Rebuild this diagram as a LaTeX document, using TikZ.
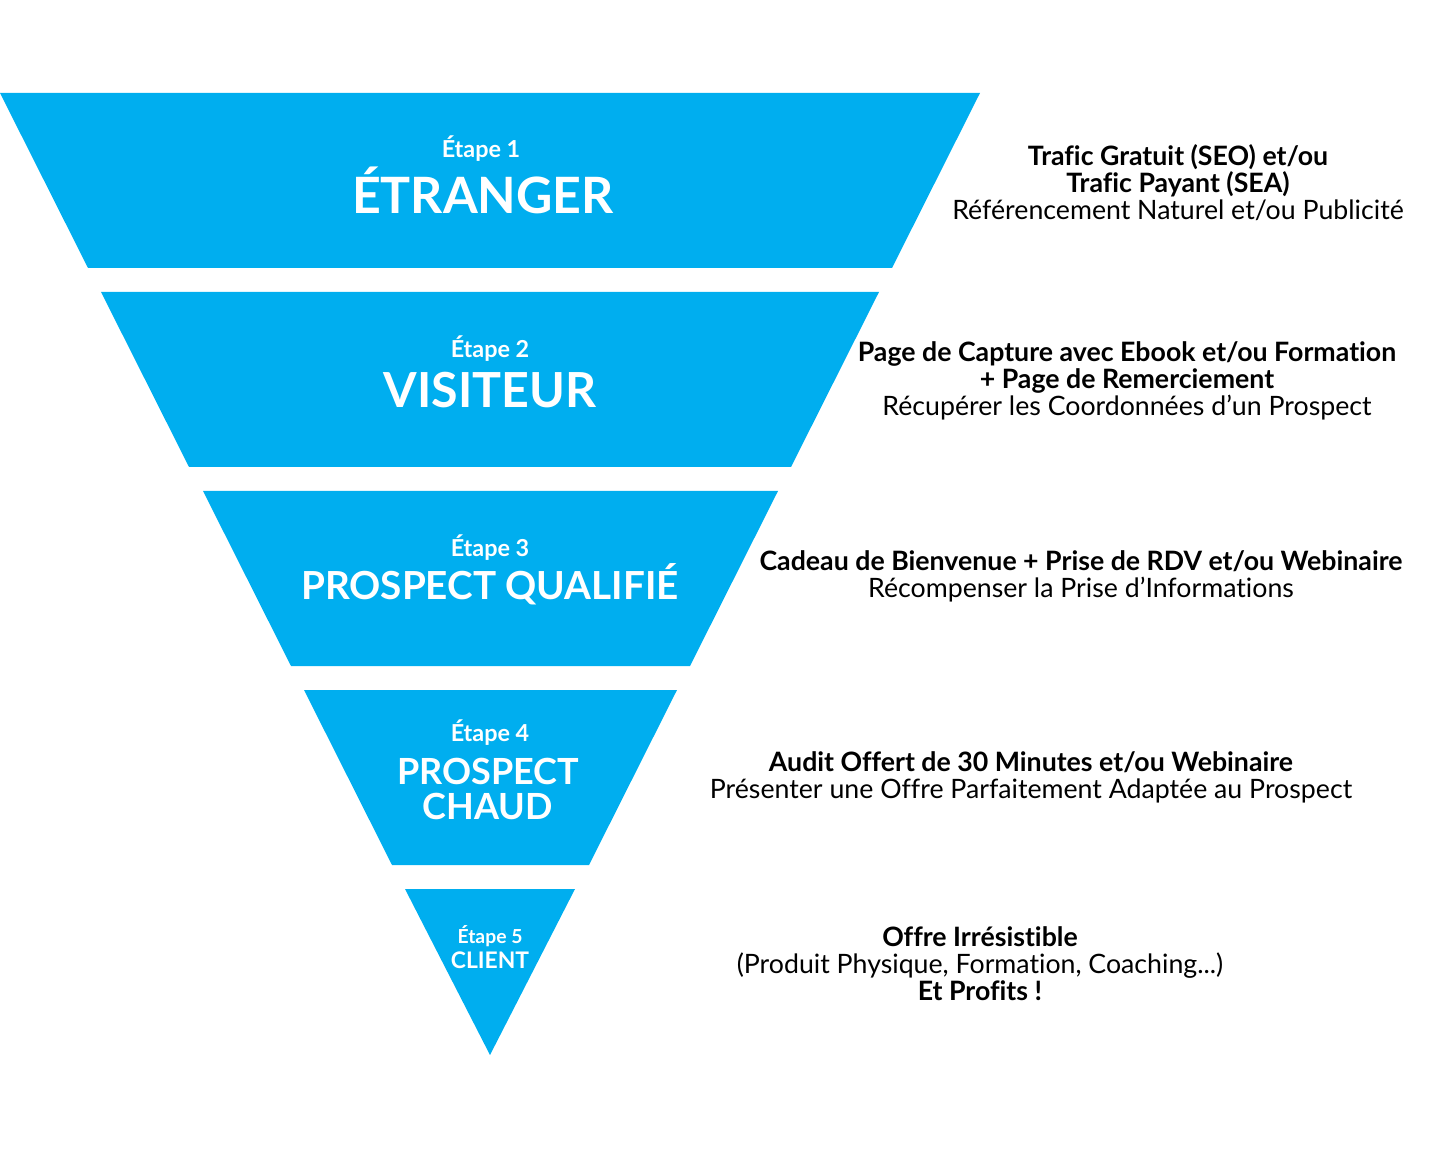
\documentclass[tikz,border=0pt]{standalone}
\usepackage{fontspec}
\setmainfont{Lato}[Ligatures={NoCommon}]
\usepackage{tikz}
\definecolor{funnelblue}{RGB}{0,174,239}

\tikzset{
  band/.style={fill=funnelblue},
  stage/.style={text=white, font=\bfseries\fontsize{13.3}{14}\selectfont, inner sep=0pt},
  title/.style={text=white, font=\bfseries\fontsize{27.5}{27.5}\selectfont, inner sep=0pt},
  subtitle/.style={text=white, font=\bfseries\fontsize{22}{20.4}\selectfont, inner sep=0pt, align=center},
  desc/.style={text=black, font=\fontsize{15.2}{15.3}\selectfont, inner sep=0pt, align=center},
}

\begin{document}
\begin{tikzpicture}[x=0.02cm, y=-0.02cm]
    % Page
    \useasboundingbox (0,0) rectangle (1440,1158);

    % Funnel bands
    \fill[band] (0,93) -- (980,93) -- (892,268) -- (88,268) -- cycle;
    \fill[band] (101,292) -- (879,292) -- (791,467) -- (189,467) -- cycle;
    \fill[band] (203,491) -- (778,491) -- (690,666) -- (291,666) -- cycle;
    \fill[band] (304,690) -- (677,690) -- (589,865) -- (392,865) -- cycle;
    \fill[band] (405,889) -- (575,889) -- (490,1055) -- cycle;

    % Stage labels
    \node[stage] (e1) at (481,149) {Étape 1};
    \node[title, font=\bfseries\fontsize{28.5}{28.5}\selectfont] (t1) at (483,190) {ÉTRANGER};
    \node[stage] (e2) at (490,349) {Étape 2};
    \node[title] (t2) at (490,390) {VISITEUR};
    \node[stage] (e3) at (490,548) {Étape 3};
    \node[subtitle] (t3) at (490,584) {PROSPECT QUALIFIÉ};
    \node[stage] (e4) at (490,733) {Étape 4};
    \node[subtitle, font=\bfseries\fontsize{20.5}{20.4}\selectfont] (t4) at (488,789) {PROSPECT\\CHAUD};
    \node[stage, font=\bfseries\fontsize{11}{11}\selectfont] (e5) at (490,936) {Étape 5};
    \node[stage, font=\bfseries\fontsize{13}{13}\selectfont] (t5) at (490,960) {CLIENT};

    % Descriptions
    \node[desc] (d1) at (1178,183) {\textbf{Trafic Gratuit (SEO) et/ou}\\\textbf{Trafic Payant (SEA)}\\Référencement Naturel et/ou Publicité};
    \node[desc] (d2) at (1127,381) {\textbf{Page de Capture avec Ebook et/ou Formation}\\\textbf{+ Page de Remerciement}\\Récupérer les Coordonnées d’un Prospect};
    \node[desc] (d3) at (1081,576) {\textbf{Cadeau de Bienvenue + Prise de RDV et/ou Webinaire}\\Récompenser la Prise d’Informations};
    \node[desc] (d4) at (1031,777) {\textbf{Audit Offert de 30 Minutes et/ou Webinaire}\\Présenter une Offre Parfaitement Adaptée au Prospect};
    \node[desc] (d5) at (980,964) {\textbf{Offre Irrésistible}\\(Produit Physique, Formation, Coaching...)\\\textbf{Et Profits !}};
\end{tikzpicture}
\end{document}
